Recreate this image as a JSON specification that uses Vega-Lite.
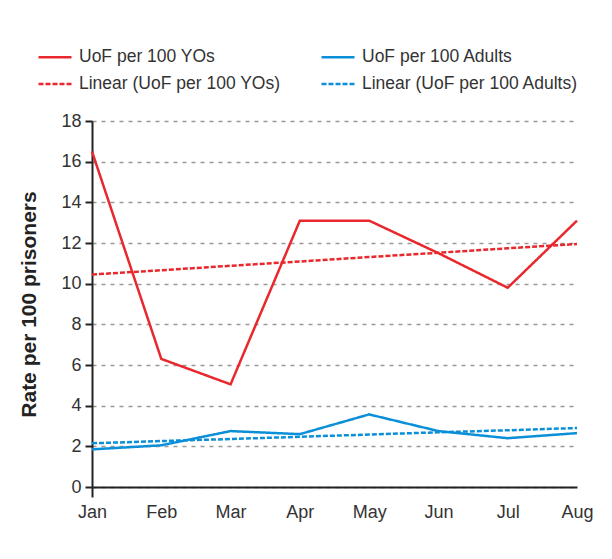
{
  "$schema": "https://vega.github.io/schema/vega-lite/v6.json",
  "autosize": {"type": "none"},
  "width": 485,
  "height": 366,
  "padding": {"left": 92, "top": 121, "right": 35, "bottom": 72},
  "background": "white",
  "config": {
    "view": {"stroke": null},
    "font": "Liberation Sans",
    "axis": {"labelFont": "Liberation Sans", "titleFont": "Liberation Sans"}
  },
  "data": {
    "values": [
      {"month": "Jan", "series": "UoF per 100 YOs", "value": 16.5},
      {"month": "Feb", "series": "UoF per 100 YOs", "value": 6.3},
      {"month": "Mar", "series": "UoF per 100 YOs", "value": 5.05},
      {"month": "Apr", "series": "UoF per 100 YOs", "value": 13.1},
      {"month": "May", "series": "UoF per 100 YOs", "value": 13.1},
      {"month": "Jun", "series": "UoF per 100 YOs", "value": 11.5},
      {"month": "Jul", "series": "UoF per 100 YOs", "value": 9.8},
      {"month": "Aug", "series": "UoF per 100 YOs", "value": 13.1},
      {"month": "Jan", "series": "UoF per 100 Adults", "value": 1.85},
      {"month": "Feb", "series": "UoF per 100 Adults", "value": 2.05},
      {"month": "Mar", "series": "UoF per 100 Adults", "value": 2.75},
      {"month": "Apr", "series": "UoF per 100 Adults", "value": 2.6},
      {"month": "May", "series": "UoF per 100 Adults", "value": 3.57},
      {"month": "Jun", "series": "UoF per 100 Adults", "value": 2.75},
      {"month": "Jul", "series": "UoF per 100 Adults", "value": 2.4},
      {"month": "Aug", "series": "UoF per 100 Adults", "value": 2.65},
      {"month": "Jan", "series": "Linear (UoF per 100 YOs)", "value": 10.45},
      {"month": "Feb", "series": "Linear (UoF per 100 YOs)", "value": 10.66},
      {"month": "Mar", "series": "Linear (UoF per 100 YOs)", "value": 10.88},
      {"month": "Apr", "series": "Linear (UoF per 100 YOs)", "value": 11.09},
      {"month": "May", "series": "Linear (UoF per 100 YOs)", "value": 11.31},
      {"month": "Jun", "series": "Linear (UoF per 100 YOs)", "value": 11.52},
      {"month": "Jul", "series": "Linear (UoF per 100 YOs)", "value": 11.74},
      {"month": "Aug", "series": "Linear (UoF per 100 YOs)", "value": 11.95},
      {"month": "Jan", "series": "Linear (UoF per 100 Adults)", "value": 2.15},
      {"month": "Feb", "series": "Linear (UoF per 100 Adults)", "value": 2.26},
      {"month": "Mar", "series": "Linear (UoF per 100 Adults)", "value": 2.36},
      {"month": "Apr", "series": "Linear (UoF per 100 Adults)", "value": 2.47},
      {"month": "May", "series": "Linear (UoF per 100 Adults)", "value": 2.58},
      {"month": "Jun", "series": "Linear (UoF per 100 Adults)", "value": 2.69},
      {"month": "Jul", "series": "Linear (UoF per 100 Adults)", "value": 2.79},
      {"month": "Aug", "series": "Linear (UoF per 100 Adults)", "value": 2.9}
    ]
  },
  "mark": {"type": "line", "strokeWidth": 2.5},
  "encoding": {
    "x": {
      "field": "month",
      "type": "ordinal",
      "sort": ["Jan", "Feb", "Mar", "Apr", "May", "Jun", "Jul", "Aug"],
      "scale": {"type": "point", "padding": 0},
      "axis": {
        "title": null,
        "labelAngle": 0,
        "labelFontSize": 18,
        "labelColor": "#333",
        "labelPadding": 6,
        "domainColor": "#222",
        "domainWidth": 2,
        "tickSize": 10,
        "tickWidth": 2,
        "tickColor": {"condition": {"test": "datum.value === 'Jan'", "value": "#222"}, "value": "transparent"},
        "grid": false
      }
    },
    "y": {
      "field": "value",
      "type": "quantitative",
      "scale": {"domain": [0, 18]},
      "axis": {
        "title": "Rate per 100 prisoners",
        "titleFontSize": 21,
        "titleFontWeight": "bold",
        "titleColor": "#222",
        "titlePadding": 21,
        "values": [0, 2, 4, 6, 8, 10, 12, 14, 16, 18],
        "labelFontSize": 18,
        "labelColor": "#333",
        "labelPadding": 4,
        "domainColor": "#222",
        "domainWidth": 2,
        "tickColor": "#222",
        "tickWidth": 2,
        "tickSize": 7,
        "grid": true,
        "gridColor": "#999",
        "gridDash": [4, 5],
        "gridWidth": 1.5
      }
    },
    "color": {
      "field": "series",
      "type": "nominal",
      "scale": {
        "domain": ["UoF per 100 YOs", "UoF per 100 Adults", "Linear (UoF per 100 YOs)", "Linear (UoF per 100 Adults)"],
        "range": ["#e8282c", "#0b8fd8", "#e8282c", "#0b8fd8"]
      },
      "legend": {
        "title": null,
        "orient": "none",
        "legendX": -55,
        "legendY": -82,
        "columns": 2,
        "direction": "horizontal",
        "columnPadding": 35,
        "rowPadding": -14,
        "symbolType": "stroke",
        "symbolSize": 1089,
        "symbolStrokeWidth": 2.5,
        "labelFontSize": 17.5,
        "labelColor": "#333",
        "labelOffset": 6,
        "labelLimit": 400
      }
    },
    "strokeDash": {
      "field": "series",
      "type": "nominal",
      "scale": {
        "domain": ["UoF per 100 YOs", "UoF per 100 Adults", "Linear (UoF per 100 YOs)", "Linear (UoF per 100 Adults)"],
        "range": [[1, 0], [1, 0], [5, 2], [5, 2]]
      },
      "legend": null
    }
  }
}
